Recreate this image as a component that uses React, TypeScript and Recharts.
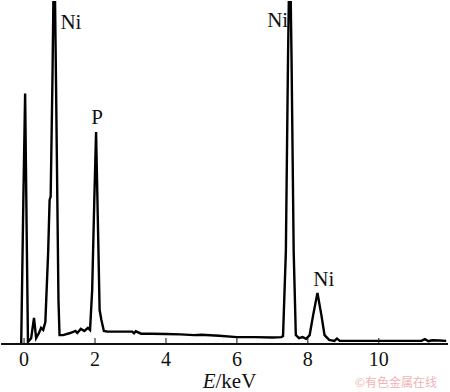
import { LineChart, Line, XAxis, YAxis, ReferenceDot } from "recharts";

// EDS spectrum, energy (keV) vs intensity (arb. units, 100 = top of frame)
const energy = [
  -0.08, -0.02, 0.03, 0.08, 0.11, 0.2, 0.28, 0.34, 0.42, 0.48, 0.54, 0.6, 0.68,
  0.72, 0.75, 0.8, 0.85, 0.9, 0.97, 1.0, 1.1, 1.3, 1.45, 1.5, 1.6, 1.7, 1.8,
  1.86, 1.92, 1.98, 2.03, 2.08, 2.13, 2.18, 2.25, 2.35, 2.6, 2.9, 3.05, 3.1,
  3.15, 3.3, 3.6, 4.0, 4.4, 4.8, 5.0, 5.5, 6.0, 6.5, 7.0, 7.25, 7.3, 7.38,
  7.44, 7.49, 7.54, 7.6, 7.66, 7.75, 7.85, 7.95, 8.05, 8.15, 8.27, 8.38, 8.47,
  8.6, 8.75, 8.82, 8.9, 9.5, 10.0, 10.5, 11.0, 11.2, 11.3, 11.4, 11.5, 11.7,
  11.9,
];
const counts = [
  0.3, 42, 73, 27, 0.6, 1.7, 7.6, 1.7, 3.2, 4.7, 4.1, 6.4, 27, 42, 43, 77, 120,
  77, 12.8, 2.6, 2.6, 3.2, 3.8, 3.2, 4.4, 3.8, 4.7, 4.1, 15.7, 42, 61.8, 36,
  9.9, 7, 3.8, 3.6, 3.6, 3.6, 3.6, 3.1, 3.7, 3.0, 3.0, 2.9, 2.8, 2.6, 2.7, 2.4,
  2.0, 2.0, 1.9, 2.0, 2.3, 27, 83, 120, 83, 27, 2.6, 1.7, 2.0, 1.5, 2.6, 8.5,
  14.9, 8.5, 2.6, 1.2, 0.9, 1.6, 0.9, 0.9, 0.9, 0.9, 0.9, 0.9, 1.4, 0.8, 1.1,
  1.0, 0.9,
];

const data = energy.map((e, i) => ({ e, c: counts[i] }));

const peakNames = ["Ni", "P", "Ni", "Ni"];
const peakLabelX = [1.32, 2.06, 7.15, 8.45];
const peakLabelY = [93.9, 66.2, 94.5, 19];

const xTicks = [0, 2, 4, 6, 8, 10];
const serif = "'Liberation Serif', 'Times New Roman', serif";

function PeakLabel(props: any) {
  const { viewBox, text } = props;
  const cx = viewBox.x + viewBox.width / 2;
  const cy = viewBox.y + viewBox.height / 2;
  return (
    <text
      x={cx}
      y={cy}
      textAnchor="middle"
      dominantBaseline="central"
      fontFamily={serif}
      fontSize={21}
      fill="#111"
    >
      {text}
    </text>
  );
}

function AxisTitle(props: any) {
  const { viewBox } = props;
  return (
    <text
      x={viewBox.x + viewBox.width / 2 + 5}
      y={388}
      textAnchor="middle"
      fontFamily={serif}
      fontSize={21}
      fill="#111"
    >
      <tspan fontStyle="italic">E</tspan>
      <tspan>/keV</tspan>
    </text>
  );
}

export default function App() {
  return (
    <div style={{ position: "absolute", left: 0, top: 0, width: 450, height: 392, background: "#fff" }}>
      <LineChart
        width={450}
        height={392}
        data={data}
        margin={{ top: 1, right: 2, left: 1, bottom: 0 }}
      >
        <XAxis
          dataKey="e"
          type="number"
          domain={[-0.65, 11.95]}
          allowDataOverflow
          ticks={xTicks}
          height={48}
          tickSize={-6}
          tickMargin={14}
          axisLine={{ stroke: "#111", strokeWidth: 2 }}
          tickLine={{ stroke: "#111", strokeWidth: 1 }}
          tick={{ fontFamily: serif, fontSize: 20, fill: "#111" }}
          label={<AxisTitle />}
        />
        <XAxis
          xAxisId="top"
          dataKey="e"
          type="number"
          domain={[-0.65, 11.95]}
          orientation="top"
          height={0}
          tick={false}
          tickLine={false}
          axisLine={{ stroke: "#333", strokeWidth: 1.5 }}
        />
        <YAxis
          type="number"
          domain={[0, 100]}
          allowDataOverflow
          width={0}
          tick={false}
          tickLine={false}
          axisLine={{ stroke: "#222", strokeWidth: 1.5 }}
        />
        <YAxis
          yAxisId="r"
          orientation="right"
          type="number"
          domain={[0, 100]}
          width={0}
          tick={false}
          tickLine={false}
          axisLine={{ stroke: "#222", strokeWidth: 1.5 }}
        />
        <Line
          dataKey="c"
          type="linear"
          stroke="#000"
          strokeWidth={2.4}
          dot={false}
          isAnimationActive={false}
        />
        {peakNames.map((n, i) => (
          <ReferenceDot
            key={i}
            x={peakLabelX[i]}
            y={peakLabelY[i]}
            r={0}
            stroke="none"
            fill="none"
            label={<PeakLabel text={n} />}
          />
        ))}
      </LineChart>
      <div
        style={{
          position: "absolute",
          left: 355,
          top: 373,
          fontFamily: "'Noto Sans CJK SC', sans-serif",
          fontSize: 12,
          color: "#f0b4b4",
          whiteSpace: "nowrap",
        }}
      >
        ©有色金属在线
      </div>
    </div>
  );
}
